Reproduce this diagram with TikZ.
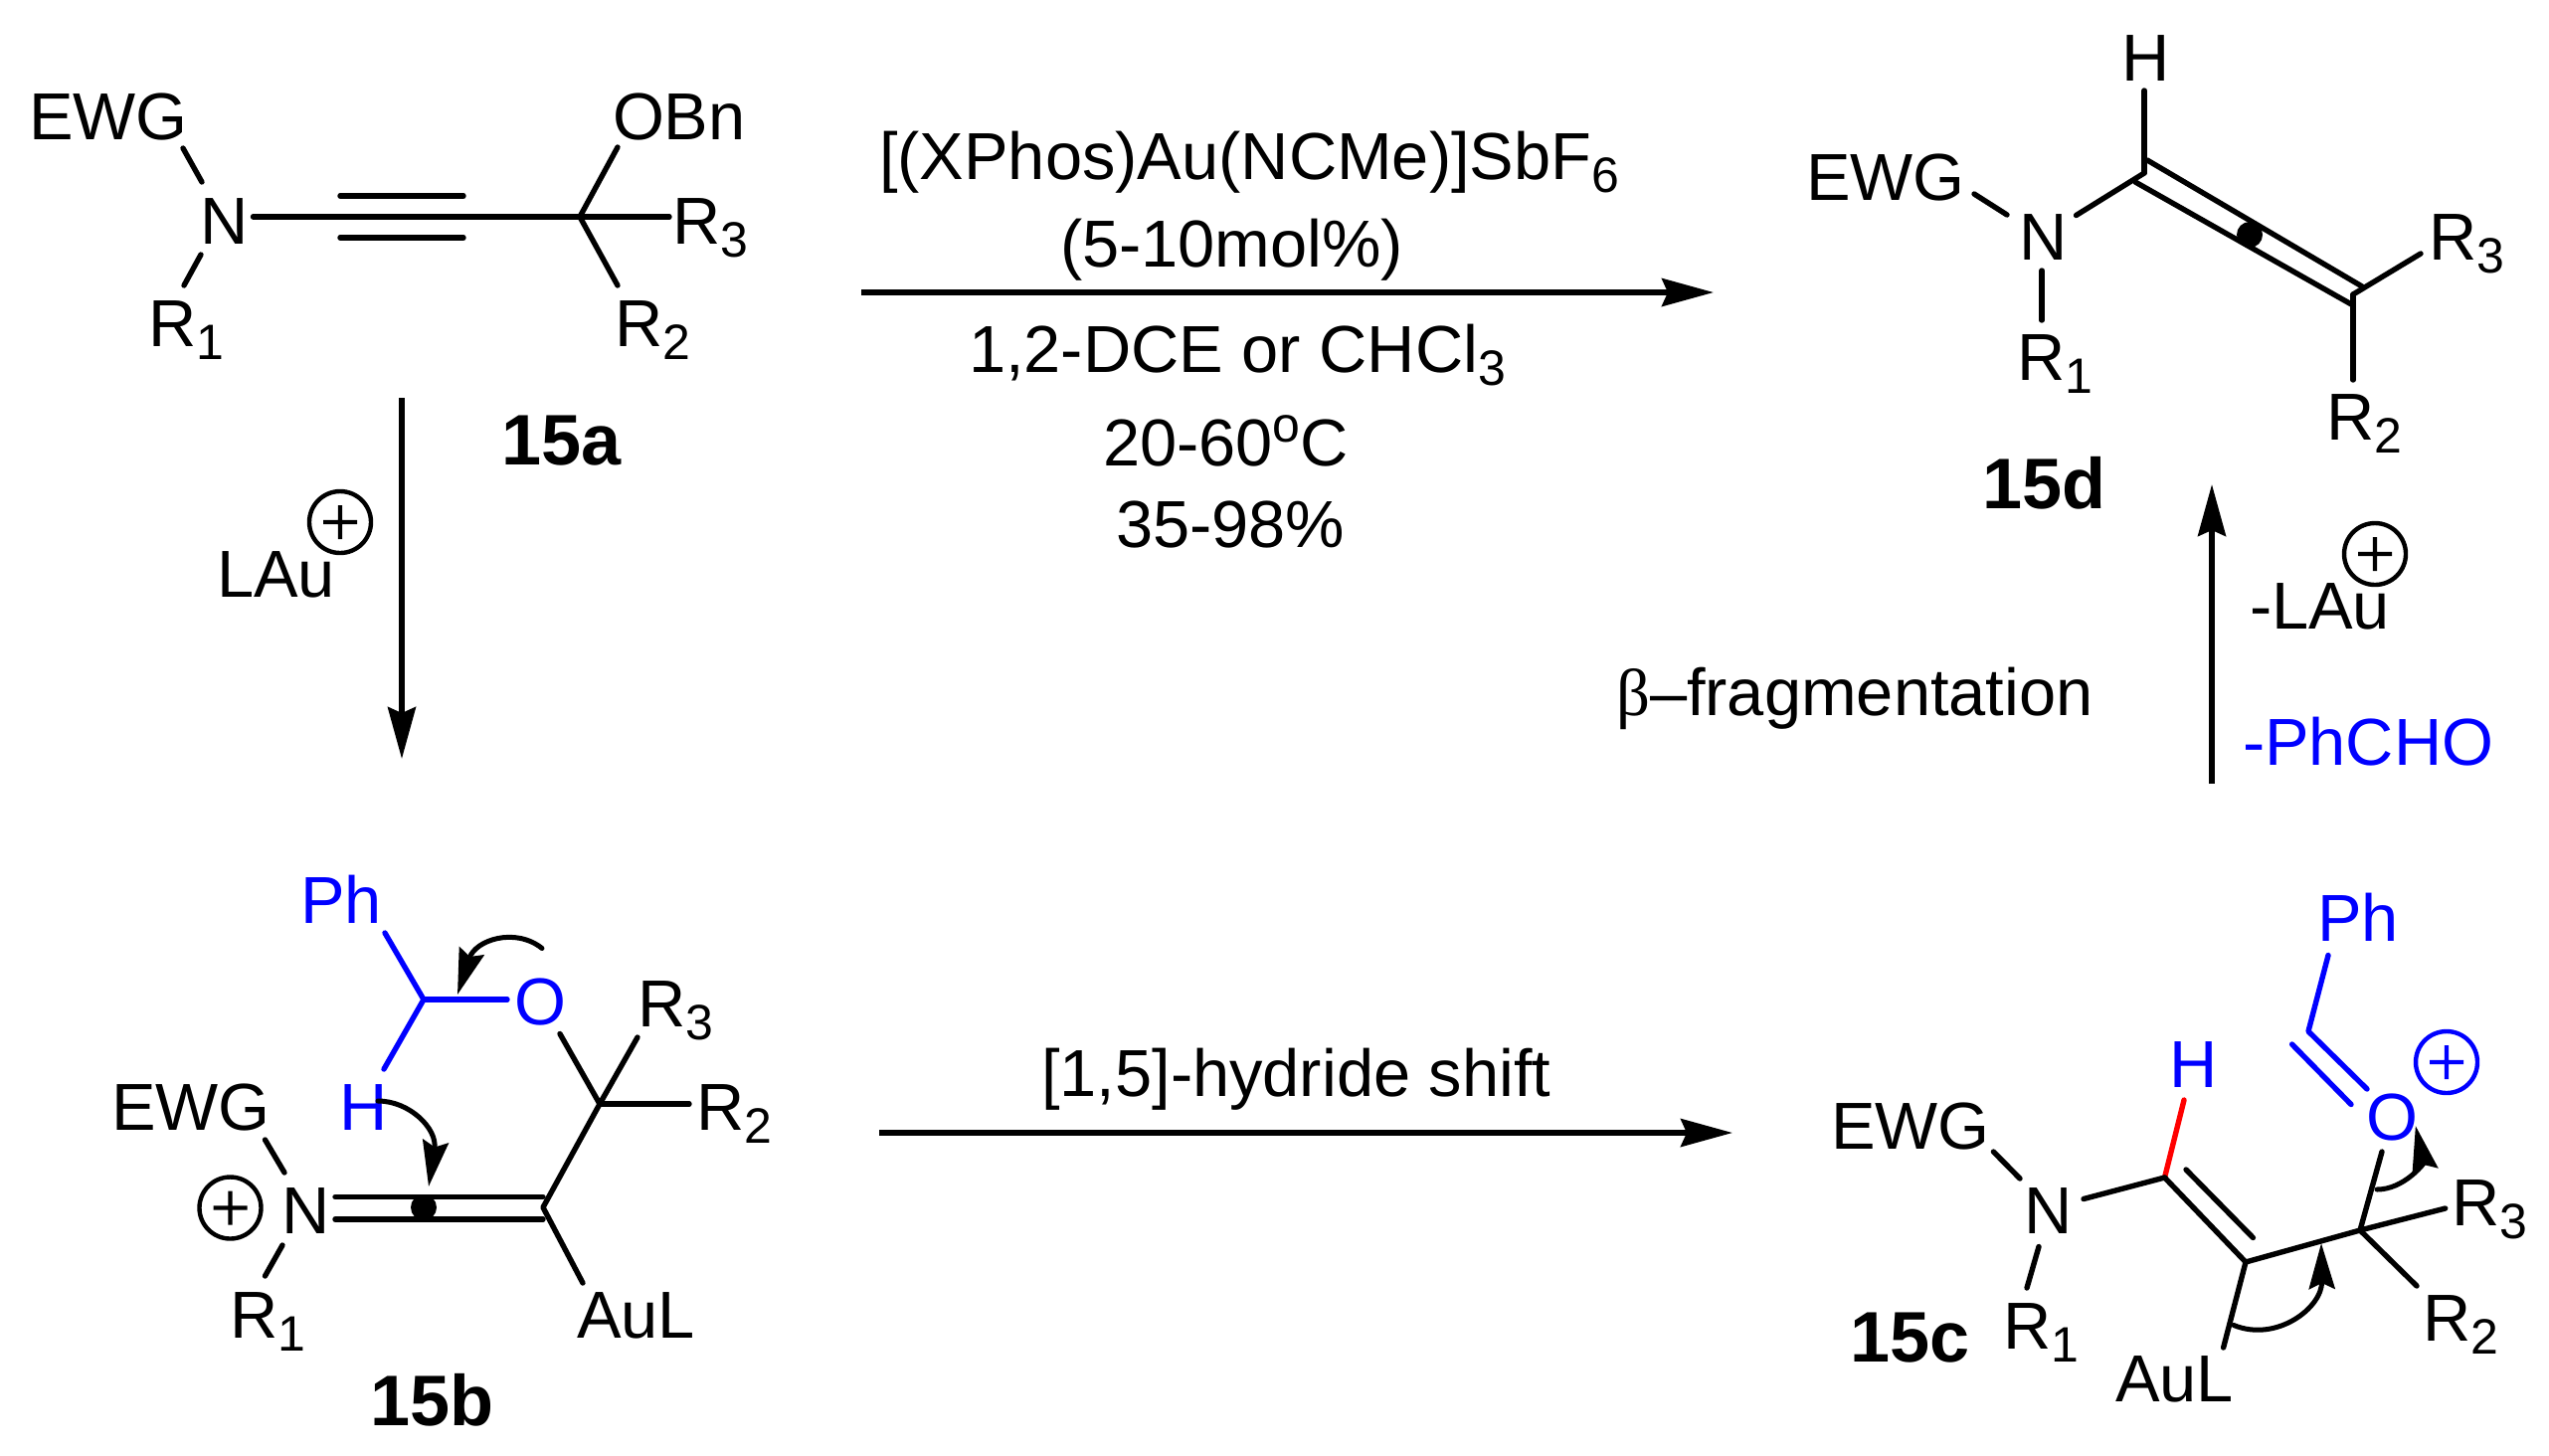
\documentclass[tikz,border=0pt]{standalone}
\usepackage{fontspec}
\usetikzlibrary{arrows.meta}
\setmainfont{Liberation Sans}
\newfontfamily\serifgreek{Liberation Serif}
\definecolor{pureblue}{RGB}{0,0,255}
\definecolor{purered}{RGB}{255,0,0}
\newcommand{\Sb}[1]{\raisebox{-6.5pt}{\fontsize{25}{25}\selectfont #1}}
\newcommand{\Charge}[3]{\draw[chargeline,#3] (#1,#2) circle[radius=15.5pt] (#1-17,#2) -- (#1+17,#2) (#1,#2-17) -- (#1,#2+17);}
\tikzset{
  lab/.style={inner sep=0pt,outer sep=0pt,anchor=base west,xshift=-2.5pt,font=\fontsize{33.4}{40}\selectfont},
  tag/.style={inner sep=0pt,outer sep=0pt,anchor=base west,xshift=-2pt,font=\fontsize{36}{42}\selectfont\bfseries},
  bond/.style={line width=2.7pt,line cap=round,line join=round},
  chargeline/.style={line width=2.2pt},
  rxn/.style={line width=2.7pt,-{Stealth[length=26pt,width=14pt,inset=3pt]}},
  curly/.style={line width=2.5pt,line cap=round,-{Stealth[length=23pt,width=13pt,inset=3pt]}},
}
\begin{document}
\begin{tikzpicture}[x=0.5pt,y=-0.5pt]
\useasboundingbox (0,0) rectangle (2563,1463);
\fill[white] (0,0) rectangle (2563,1463);

% ---------- 15a
\node[lab] (aEWG) at (34,140) {EWG};
\node[lab] (aN) at (206,245) {N};
\node[lab] (aR1) at (154,348) {R\Sb{1}};
\node[lab] (aOBn) at (621,140) {OBn};
\node[lab] (aR3) at (681,245) {R\Sb{3}};
\node[lab] (aR2) at (623,348) {R\Sb{2}};
\node[tag] (a15) at (508,467) {15a};
\draw[bond] (184,149) -- (203,183);
\draw[bond] (202,256) -- (185,287);
\draw[bond] (254.5,218) -- (583,218);
\draw[bond] (342,197) -- (466,197);
\draw[bond] (342,239) -- (466,239);
\draw[bond] (583,218) -- (621,148);
\draw[bond] (583,218) -- (673,218);
\draw[bond] (583,218) -- (621,287);

% ---------- main arrow and conditions
\node[lab] (c1) at (889,180) {[(XPhos)Au(NCMe)]SbF\Sb{6}};
\node[lab] (c2) at (1071,268) {(5-10mol\%)};
\node[lab] (c3) at (979,374) {1,2-DCE or CHCl\Sb{3}};
\node[lab] (c4) at (1114,468) {20-60\raisebox{12pt}{\fontsize{25}{25}\selectfont o}C};
\node[lab] (c5) at (1127,550) {35-98\%};
\coordinate (mainS) at (866,294);
\coordinate (mainE) at (1723,294);
\draw[rxn] (mainS) -- (mainE);

% ---------- 15d
\node[lab] (dH) at (2138,81) {H};
\node[lab] (dEWG) at (1821,201) {EWG};
\node[lab] (dN) at (2035,261) {N};
\node[lab] (dR1) at (2033,382) {R\Sb{1}};
\node[lab] (dR3) at (2447,261) {R\Sb{3}};
\node[lab] (dR2) at (2344,442) {R\Sb{2}};
\node[tag] (d15) at (1997,511) {15d};
\draw[bond] (2156,91) -- (2156,174);
\draw[bond] (1985,195) -- (2018,216);
\draw[bond] (2087.5,216.5) -- (2156,174);
\draw[bond] (2053,272) -- (2053,322);
\draw[bond] (2159,161) -- (2375,288);
\draw[bond] (2147,183) -- (2366,307);
\draw[bond] (2366,296) -- (2434,255);
\draw[bond] (2366,296) -- (2366,382);
\fill (2262,236) circle[radius=6.5pt];

% ---------- 15a -> 15b
\node[lab] (lau) at (223,600) {LAu};
\Charge{342}{525}{black}
\coordinate (downS) at (404,400);
\coordinate (downE) at (404,763);
\draw[rxn] (downS) -- (downE);

% ---------- 15c -> 15d
\node[lab] (mlau) at (2267,632) {-LAu};
\Charge{2388}{557}{black}
\node[lab] (beta) at (1630,719) {{\serifgreek β}–fragmentation};
\node[lab,text=pureblue] (phcho) at (2260,769) {-PhCHO};
\coordinate (upS) at (2224,788);
\coordinate (upE) at (2224,487);
\draw[rxn] (upS) -- (upE);

% ---------- 15b
\node[lab,text=pureblue] (bPh) at (307,928) {Ph};
\node[lab,text=pureblue] (bO) at (522,1030) {O};
\node[lab] (bR3) at (646,1032) {R\Sb{3}};
\node[lab] (bR2) at (705,1136) {R\Sb{2}};
\node[lab] (bEWG) at (117,1136) {EWG};
\node[lab,text=pureblue] (bH) at (346,1136) {H};
\node[lab] (bN) at (288,1240) {N};
\node[lab] (bR1) at (236,1345) {R\Sb{1}};
\node[lab] (bAuL) at (585,1345) {AuL};
\node[tag] (b15) at (376,1433) {15b};
\draw[bond,pureblue] (387,938) -- (426,1005) -- (386,1075);
\draw[bond,pureblue] (426,1005) -- (510,1005);
\draw[bond] (563,1039.5) -- (603,1110);
\draw[bond] (603,1110) -- (641,1043);
\draw[bond] (603,1110) -- (693,1110);
\draw[bond] (603,1110) -- (546,1214) -- (586,1290);
\draw[bond] (337,1203.5) -- (546,1203.5);
\draw[bond] (337,1226) -- (546,1226);
\draw[bond] (266.5,1146) -- (286,1179);
\draw[bond] (284,1252) -- (266.5,1283);
\Charge{231.5}{1214.5}{black}
\fill (426,1214) circle[radius=6.5pt];
\draw[curly] (545,953.5) .. controls (518,932) and (478,945) .. (460,1000);
\draw[curly] (380,1107) .. controls (412,1107) and (440,1135) .. (431,1193);

% ---------- 15b -> 15c
\node[lab] (hyd) at (1052,1102) {[1,5]-hydride shift};
\coordinate (shiftS) at (884,1139);
\coordinate (shiftE) at (1742,1139);
\draw[rxn] (shiftS) -- (shiftE);

% ---------- 15c
\node[lab,text=pureblue] (cPh) at (2335,946) {Ph};
\node[lab,text=pureblue] (cH) at (2186,1093) {H};
\node[lab] (cEWG) at (1846,1155.5) {EWG};
\node[lab,text=pureblue] (cO) at (2384,1146) {O};
\node[lab] (cN) at (2040,1240) {N};
\node[lab] (cR3) at (2470,1232) {R\Sb{3}};
\node[lab] (cR2) at (2441,1348) {R\Sb{2}};
\node[lab] (cR1) at (2019,1356) {R\Sb{1}};
\node[tag] (c15) at (1864,1369) {15c};
\node[lab] (cAuL) at (2132,1409) {AuL};
\draw[bond,pureblue] (2341,960.5) -- (2321,1037) -- (2380,1095);
\draw[bond,pureblue] (2304.6,1050) -- (2364,1110.5);
\Charge{2460}{1068}{pureblue}
\draw[bond,purered] (2196,1106) -- (2176.5,1184);
\draw[bond] (2095,1205.5) -- (2176.5,1184);
\draw[bond] (2176.5,1184) -- (2258,1269);
\draw[bond] (2198,1176) -- (2265.4,1244.5);
\draw[bond] (2258,1269) -- (2373,1237);
\draw[bond] (2373,1237) -- (2458.7,1215);
\draw[bond] (2373,1237) -- (2430,1293);
\draw[bond] (2373,1237) -- (2395,1158);
\draw[bond] (2258,1269) -- (2235.6,1355);
\draw[bond] (2004.4,1158) -- (2031,1185);
\draw[bond] (2050,1253.5) -- (2038,1295);
\draw[curly] (2246,1332.5) .. controls (2289,1350) and (2335,1315) .. (2334,1250);
\draw[curly] (2390,1196) .. controls (2417,1196) and (2437,1170) .. (2428.8,1132);
\end{tikzpicture}
\end{document}
